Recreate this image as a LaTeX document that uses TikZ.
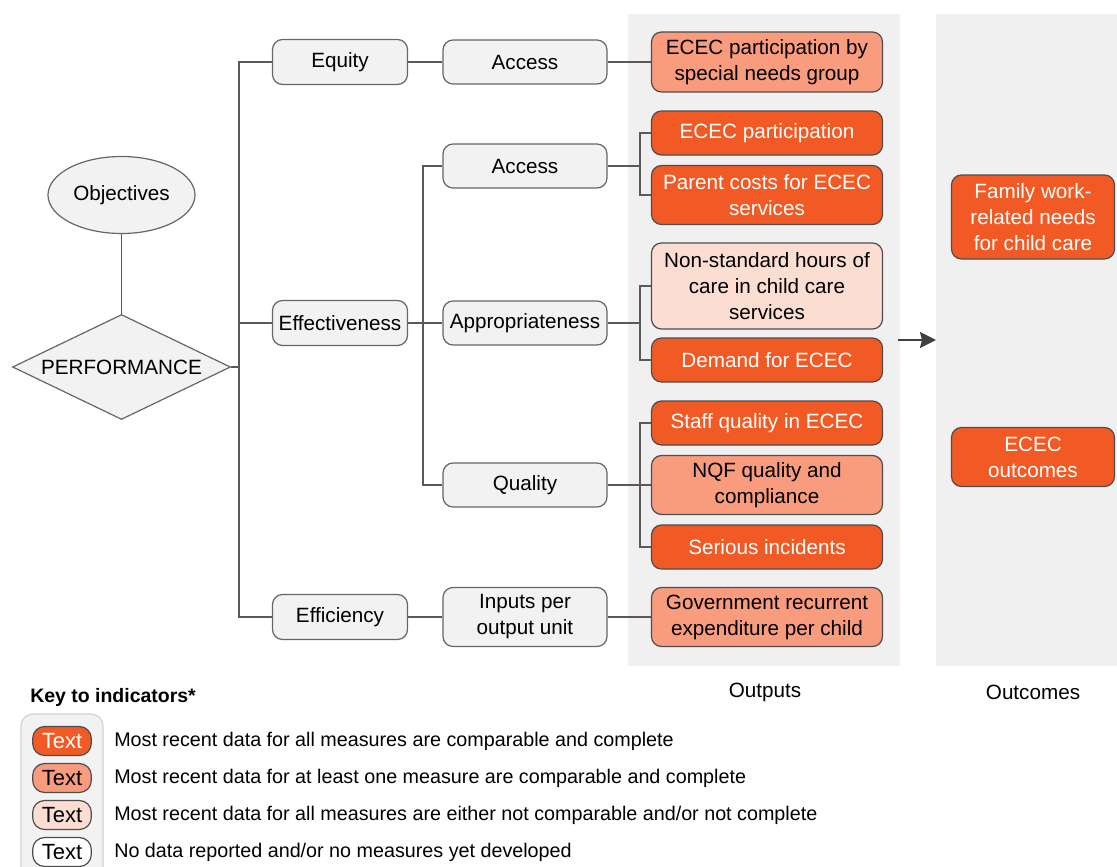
\documentclass[tikz,border=0pt]{standalone}
\usepackage{fontspec}
\setmainfont{Liberation Sans}
\usetikzlibrary{shapes.geometric,arrows.meta}
\definecolor{dkor}{HTML}{F15A24}
\definecolor{mdor}{HTML}{F89C7D}
\definecolor{ltor}{HTML}{FCDDD2}
\definecolor{gfill}{HTML}{F2F2F2}
\definecolor{panel}{HTML}{F0F0F0}
\definecolor{edge}{HTML}{666666}
\definecolor{oedge}{HTML}{4D4D4D}
\definecolor{linec}{HTML}{595959}
\definecolor{arrc}{HTML}{404040}
\tikzset{
  base/.style={font=\fontsize{15.5}{19.5}\selectfont, align=center, inner sep=0pt, line width=0.9pt},
  gbox/.style={base, draw=edge, fill=gfill, rounded corners=7.5pt, minimum width=101.25pt, minimum height=33.75pt},
  sbox/.style={base, draw=edge, fill=gfill, rounded corners=7.5pt, minimum width=123pt, minimum height=33pt},
  obox/.style={base, draw=oedge, rounded corners=7.5pt, minimum width=173.25pt, minimum height=33pt},
  ubox/.style={base, draw=oedge, rounded corners=7.5pt, minimum width=122.25pt, minimum height=44.25pt},
  dark/.style={fill=dkor, text=white},
  medium/.style={fill=mdor, text=black},
  light/.style={fill=ltor, text=black},
  conn/.style={draw=linec, line width=1.1pt},
  keybox/.style={draw=oedge, rounded corners=9pt, minimum width=44pt, minimum height=21.75pt, inner sep=0pt, line width=0.9pt, font=\fontsize{16.5}{18}\selectfont},
  keytxt/.style={anchor=west, inner sep=0pt, font=\fontsize{14.8}{18}\selectfont},
  paneltxt/.style={inner sep=0pt, font=\fontsize{15.5}{18}\selectfont}
}
\begin{document}
\begin{tikzpicture}[x=0.75pt,y=-0.75pt]
\useasboundingbox (0,0) rectangle (1117,867);
% panels
\fill[panel] (628,14) rectangle (900,666);
\fill[panel] (936,14) rectangle (1117,666);
% left
\node[base, ellipse, draw=edge, fill=gfill, minimum width=110.25pt, minimum height=57.75pt] (obj) at (121.5,195) {Objectives};
\node[base, diamond, aspect=2.08, draw=edge, fill=gfill, minimum width=163.5pt, minimum height=78.75pt] (perf) at (121.5,367) {PERFORMANCE};
% level 1
\node[gbox] (eq) at (340,62) {Equity};
\node[gbox] (eff) at (340,323) {Effectiveness};
\node[gbox] (effc) at (340,617) {Efficiency};
% level 2
\node[sbox] (acc1) at (525,62) {Access};
\node[sbox] (acc2) at (525,166) {Access};
\node[sbox] (appr) at (525,323) {Appropriateness};
\node[sbox] (qual) at (525,485) {Quality};
\node[sbox, minimum height=44.25pt] (inp) at (525,617) {Inputs per\\output unit};
% outputs
\node[obox, medium, minimum height=45pt] (o1) at (767,62) {ECEC participation by\\special needs group};
\node[obox, dark] (o2) at (767,133) {ECEC participation};
\node[obox, dark, minimum height=44.25pt] (o3) at (767,195) {Parent costs for ECEC\\services};
\node[obox, light, minimum height=64.5pt] (o4) at (767,286) {Non-standard hours of\\care in child care\\services};
\node[obox, dark] (o5) at (767,360) {Demand for ECEC};
\node[obox, dark] (o6) at (767,423) {Staff quality in ECEC};
\node[obox, medium, minimum height=44.25pt] (o7) at (767,485) {NQF quality and\\compliance};
\node[obox, dark] (o8) at (767,547) {Serious incidents};
\node[obox, medium, minimum height=44.25pt] (o9) at (767,617) {Government recurrent\\expenditure per child};
% outcomes
\node[ubox, dark, minimum height=63pt] (u1) at (1033,217) {Family work-\\related needs\\for child care};
\node[ubox, dark] (u2) at (1033,457) {ECEC\\outcomes};
% labels
\node[paneltxt] (lout) at (765,692) {Outputs};
\node[paneltxt] (loutc) at (1033,692) {Outcomes};
% junctions
\coordinate (tr) at (239,367);
\coordinate (j2) at (423,323);
\coordinate (j3) at (640,166);
\coordinate (j4) at (640,323);
\coordinate (j5) at (640,485);
% connectors
\draw[conn] (obj.south) -- (perf.north);
\draw[conn] (perf.east) -- (tr);
\draw[conn] (eq.west) -| (tr);
\draw[conn] (eff.west) -| (tr);
\draw[conn] (effc.west) -| (tr);
\draw[conn] (eq.east) -- (acc1.west);
\draw[conn] (acc1.east) -- (o1.west);
\draw[conn] (eff.east) -- (appr.west);
\draw[conn] (acc2.west) -| (j2);
\draw[conn] (qual.west) -| (j2);
\draw[conn] (effc.east) -- (inp.west);
\draw[conn] (inp.east) -- (o9.west);
\draw[conn] (acc2.east) -- (j3);
\draw[conn] (o2.west) -| (j3);
\draw[conn] (o3.west) -| (j3);
\draw[conn] (appr.east) -- (j4);
\draw[conn] (o4.west) -| (j4);
\draw[conn] (o5.west) -| (j4);
\draw[conn] (qual.east) -- (o7.west);
\draw[conn] (o6.west) -| (j5);
\draw[conn] (o8.west) -| (j5);
% arrow
\coordinate (a1) at (898,340);
\coordinate (a2) at (936,340);
\draw[draw=arrc, line width=1.6pt, -{Stealth[length=12pt,width=12pt,inset=1.5pt]}] (a1) -- (a2);
% key
\node[anchor=west, inner sep=0pt, font=\bfseries\fontsize{14.6}{18}\selectfont] (ktitle) at (30,697) {Key to indicators*};
\draw[draw=gray!35, fill=gfill, rounded corners=9pt, line width=0.9pt] (21,714) rectangle (103,885);
\node[keybox, dark, text=white] (k1) at (62,741) {Text};
\node[keybox, medium] (k2) at (62,778) {Text};
\node[keybox, light] (k3) at (62,815) {Text};
\node[keybox, fill=white] (k4) at (62,852) {Text};
\node[keytxt] (t1) at (114,741) {Most recent data for all measures are comparable and complete};
\node[keytxt] (t2) at (114,778) {Most recent data for at least one measure are comparable and complete};
\node[keytxt] (t3) at (114,815) {Most recent data for all measures are either not comparable and/or not complete};
\node[keytxt] (t4) at (114,852) {No data reported and/or no measures yet developed};
\end{tikzpicture}
\end{document}
